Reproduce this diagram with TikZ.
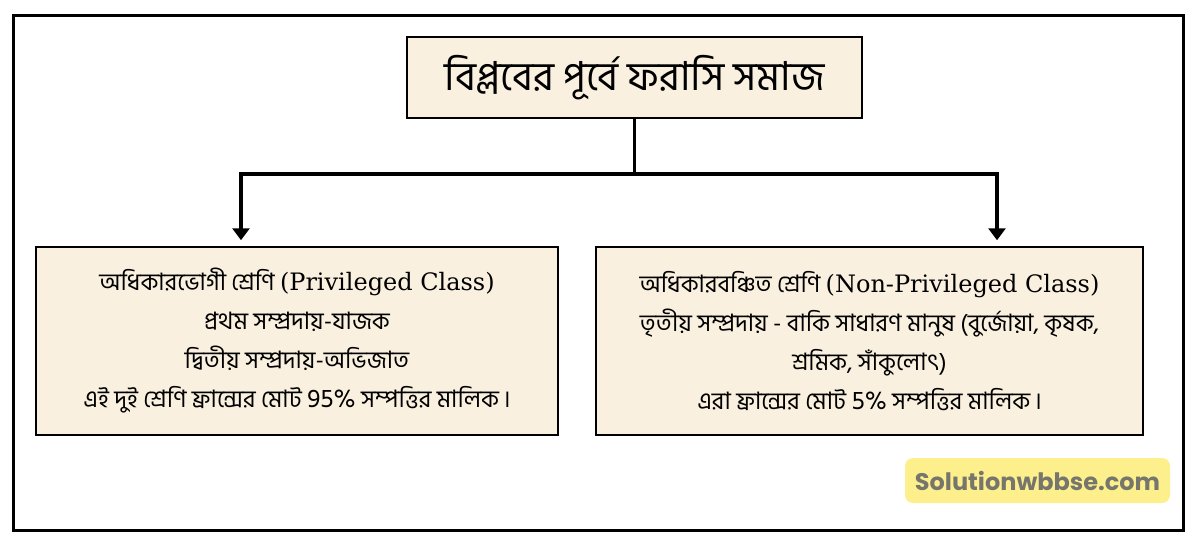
\documentclass[tikz,border=0pt]{standalone}
\usepackage{fontspec}
\usetikzlibrary{arrows.meta}
\newfontfamily\bnfont[Script=Bengali]{Hind Siliguri}
\newfontfamily\enserif{DejaVu Serif}
\newfontfamily\wmfont{Poppins}
\definecolor{boxfill}{RGB}{249,240,223}
\definecolor{wmyellow}{RGB}{253,240,140}
\definecolor{wmgray}{RGB}{118,118,108}
\tikzset{
  joint/.style = {line width=3.6pt},
  branch/.style = {line width=3.6pt, -{Triangle[width=17pt,length=12pt]}, shorten >=6pt},
  bodytext/.style = {font=\bnfont\fontsize{24}{39}\selectfont}
}
\begin{document}
\begin{tikzpicture}[x=1pt,y=-1pt]
    \useasboundingbox (0,0) rectangle (1200,549);
    \draw[line width=3pt] (13,15) rectangle (1183,530);
    \begin{scope}[every node/.style = {draw, fill=boxfill, align=center, inner sep=0pt}]
        \node[line width=1.8pt, minimum width=455pt, minimum height=81pt,
              font=\bnfont\fontsize{40}{46}\selectfont] (title) at (634.5,77.5) {বিপ্লবের পূর্বে ফরাসি সমাজ};
        \node[line width=1.5pt, minimum width=522pt, minimum height=188pt, bodytext] (priv) at (297,341)
            {অধিকারভোগী শ্রেণি {\enserif(Privileged Class)}\\
             প্রথম সম্প্রদায়-যাজক\\
             দ্বিতীয় সম্প্রদায়-অভিজাত\\
             এই দুই শ্রেণি ফ্রান্সের মোট {\fontsize{26}{39}\selectfont 95\%} সম্পত্তির মালিক\,।};
        \node[line width=1.5pt, minimum width=547pt, minimum height=188pt, bodytext] (nonpriv) at (869.5,341)
            {অধিকারবঞ্চিত শ্রেণি {\enserif(Non-Privileged Class)}\\
             তৃতীয় সম্প্রদায় - বাকি সাধারণ মানুষ (বুর্জোয়া, কৃষক,\\
             শ্রমিক, সাঁকুলোৎ)\\
             এরা ফ্রান্সের মোট {\fontsize{26}{39}\selectfont 5\%} সম্পত্তির মালিক\,।};
    \end{scope}
    \coordinate (fork) at ([yshift=-55pt]title.south);
    \draw[joint] (title.south) -- (fork);
    \draw[branch] (fork) -| ([xshift=-56pt]priv.north);
    \draw[branch] (fork) -| ([xshift=127.5pt]nonpriv.north);
    \node[fill=wmyellow, rounded corners=8pt, minimum width=265pt, minimum height=45pt,
          font=\wmfont\bfseries\fontsize{24}{30}\selectfont, text=wmgray] (site) at (1037.5,480.5) {Solutionwbbse.com};
\end{tikzpicture}
\end{document}
